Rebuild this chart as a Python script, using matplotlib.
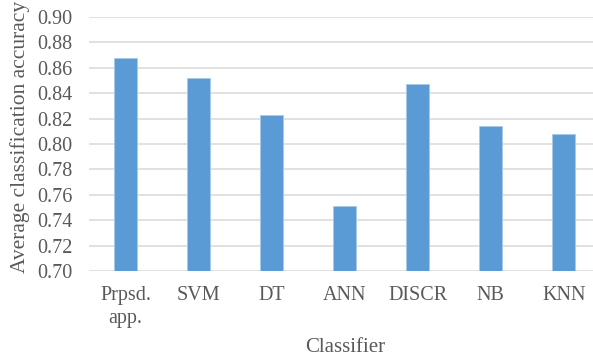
import matplotlib
matplotlib.use('Agg')
import numpy as np
import matplotlib.pyplot as plt

classifiers = ['Prpsd.\napp.', 'SVM', 'DT', 'ANN', 'DISCR', 'NB', 'KNN']
accuracy = [0.868, 0.852, 0.823, 0.751, 0.847, 0.814, 0.808]
yticks = [0.70, 0.72, 0.74, 0.76, 0.78, 0.80, 0.82, 0.84, 0.86, 0.88, 0.90]

plt.rcParams['font.family'] = ['Liberation Serif', 'DejaVu Serif']
txt = '#595959'

fig = plt.figure(figsize=(5.93, 3.58), dpi=100)
ax = fig.add_axes([89 / 593, 1 - 271 / 358, 1 - 89 / 593, (271 - 17) / 358])

x = np.arange(len(classifiers))
ax.bar(x, accuracy, width=0.31, bottom=0, color='#5b9bd5',
       edgecolor='#a9c9ea', linewidth=0.6, zorder=3)

ax.set_ylim(0.70, 0.90)
ax.set_xlim(-0.5, 6.4)
ax.set_yticks(yticks)
ax.set_yticklabels(['%.2f' % v for v in yticks])
ax.set_xticks(x)
ax.set_xticklabels(classifiers, linespacing=1.3)
ax.tick_params(axis='y', length=0, pad=12, labelsize=14.5, labelcolor=txt)
ax.tick_params(axis='x', length=0, pad=11, labelsize=14.5, labelcolor=txt)
ax.grid(axis='y', color='#d9d9d9', linewidth=1.1, zorder=0)
for s in ax.spines.values():
    s.set_visible(False)

ax.set_ylabel('Average classification accuracy', fontsize=15.5, color=txt,
              va='center')
ax.yaxis.set_label_coords((20 - 89) / 504, (271 - 137) / 254)
ax.set_xlabel('Classifier', fontsize=15, color=txt, va='center')
ax.xaxis.set_label_coords((345 - 89) / 504, -(347 - 271) / 254)

fig.savefig('out.png', dpi=100)
